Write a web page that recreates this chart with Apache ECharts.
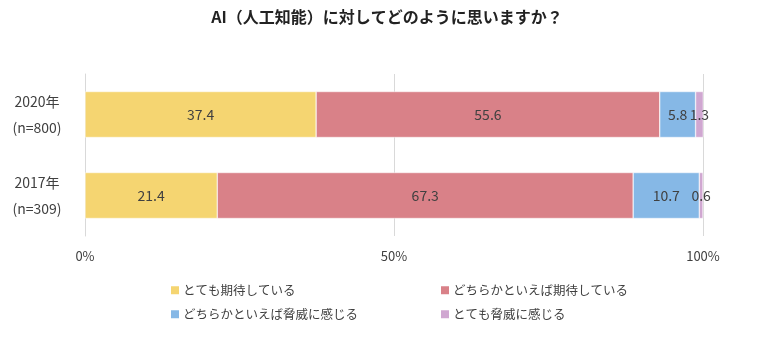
<!DOCTYPE html>
<html><head><meta charset="utf-8">
<script src="https://cdn.jsdelivr.net/npm/echarts@6/dist/echarts.min.js"></script>
<style>html,body{margin:0;padding:0;background:#fff}#c{width:774px;height:347px}</style>
</head><body><div id="c"></div>
<script>
const categories = ['2020年\n(n=800)', '2017年\n(n=309)'];
const seriesNames = ['とても期待している', 'どちらかといえば期待している', 'どちらかといえば脅威に感じる', 'とても脅威に感じる'];
const veryExpect = [37.4, 21.4];
const somewhatExpect = [55.6, 67.3];
const somewhatThreat = [5.8, 10.7];
const veryThreat = [1.3, 0.6];
const xTicks = [0, 50, 100];
const colors = ['#F5D571', '#D98188', '#86B8E6', '#D0A7D1'];
const values = [veryExpect, somewhatExpect, somewhatThreat, veryThreat];
const font = '"Noto Sans CJK JP", sans-serif';

const chart = echarts.init(document.getElementById('c'));
const legendPos = [[164, 279], [434, 279], [164, 303], [434, 303]];
chart.setOption({
  animation: false,
  title: {text: 'AI（人工知能）に対してどのように思いますか？', left: 'center', top: 4,
    textStyle: {fontSize: 16, fontWeight: 'bold', color: '#222', fontFamily: font}},
  legend: seriesNames.map((n, i) => ({data: [n], left: legendPos[i][0], top: legendPos[i][1],
    itemWidth: 10, itemHeight: 10, itemGap: 4, icon: 'rect',
    textStyle: {fontSize: 12.5, color: '#404040', fontFamily: font, padding: [0,0,0,-2]}})),
  grid: {left: 85, right: 71, top: 74, bottom: 111},
  xAxis: {type: 'value', min: 0, max: 100, interval: 50,
    axisLine: {show: false},
    axisTick: {show: false},
    splitLine: {show: true, lineStyle: {color: '#D9D9D9'}},
    axisLabel: {formatter: v => xTicks.includes(v) ? v + '%' : '', color: '#404040', fontSize: 13, margin: 14, fontFamily: font}},
  yAxis: {type: 'category', data: categories, inverse: true,
    axisLine: {show: true, lineStyle: {color: '#D9D9D9'}},
    axisTick: {show: false},
    axisLabel: {color: '#404040', fontSize: 14, lineHeight: 26, margin: 48, align: 'center', fontFamily: font}},
  series: seriesNames.map((n, i) => ({
    name: n, type: 'bar', stack: 'a', barWidth: 46,
    data: values[i],
    itemStyle: {color: colors[i], borderColor: '#fff', borderWidth: 0.5},
    label: {show: true, position: 'inside', color: '#404040', fontSize: 14, fontFamily: font,
      formatter: p => p.value.toFixed(1)}
  }))
});
</script></body></html>
